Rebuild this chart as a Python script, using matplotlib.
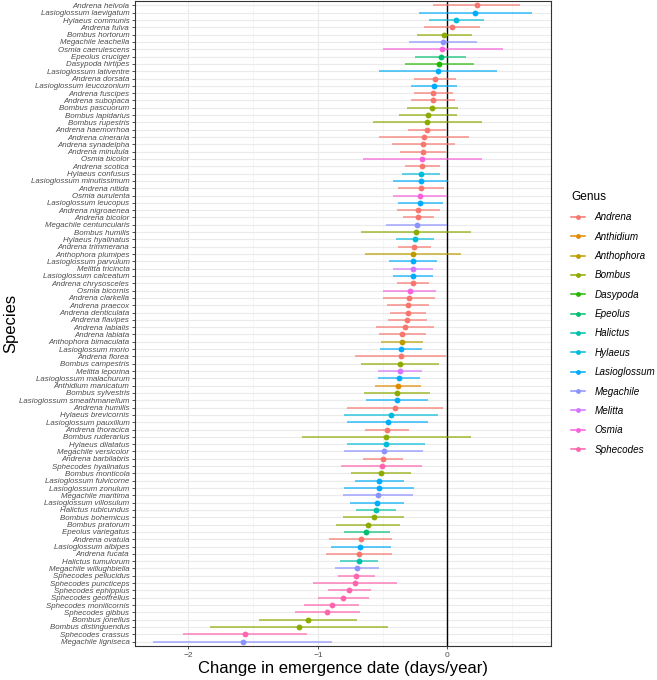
import matplotlib
matplotlib.use("Agg")
import matplotlib.pyplot as plt
from matplotlib.lines import Line2D

species = ["Andrena helvola","Lasioglossum laevigatum","Hylaeus communis","Andrena fulva","Bombus hortorum",
"Megachile leachella","Osmia caerulescens","Epeolus cruciger","Dasypoda hirtipes","Lasioglossum lativentre",
"Andrena dorsata","Lasioglossum leucozonium","Andrena fuscipes","Andrena subopaca","Bombus pascuorum",
"Bombus lapidarius","Bombus rupestris","Andrena haemorrhoa","Andrena cineraria","Andrena synadelpha",
"Andrena minutula","Osmia bicolor","Andrena scotica","Hylaeus confusus","Lasioglossum minutissimum",
"Andrena nitida","Osmia aurulenta","Lasioglossum leucopus","Andrena nigroaenea","Andrena bicolor",
"Megachile centuncularis","Bombus humilis","Hylaeus hyalinatus","Andrena trimmerana","Anthophora plumipes",
"Lasioglossum parvulum","Melitta tricincta","Lasioglossum calceatum","Andrena chrysosceles","Osmia bicornis",
"Andrena clarkella","Andrena praecox","Andrena denticulata","Andrena flavipes","Andrena labialis",
"Andrena labiata","Anthophora bimaculata","Lasioglossum morio","Andrena florea","Bombus campestris",
"Melitta leporina","Lasioglossum malachurum","Anthidium manicatum","Bombus sylvestris","Lasioglossum smeathmanellum",
"Andrena humilis","Hylaeus brevicornis","Lasioglossum pauxillum","Andrena thoracica","Bombus ruderarius",
"Hylaeus dilatatus","Megachile versicolor","Andrena barbilabris","Sphecodes hyalinatus","Bombus monticola",
"Lasioglossum fulvicorne","Lasioglossum zonulum","Megachile maritima","Lasioglossum villosulum","Halictus rubicundus",
"Bombus bohemicus","Bombus pratorum","Epeolus variegatus","Andrena ovatula","Lasioglossum albipes",
"Andrena fucata","Halictus tumulorum","Megachile willughbiella","Sphecodes pellucidus","Sphecodes puncticeps",
"Sphecodes ephippius","Sphecodes geoffrellus","Sphecodes monilicornis","Sphecodes gibbus","Bombus jonellus",
"Bombus distinguendus","Sphecodes crassus","Megachile ligniseca"]

estimate = [0.225,0.214,0.070,0.036,-0.028,-0.031,-0.039,-0.052,-0.062,-0.075,
-0.093,-0.106,-0.108,-0.114,-0.121,-0.150,-0.155,-0.157,-0.181,-0.188,
-0.191,-0.194,-0.196,-0.204,-0.204,-0.206,-0.209,-0.212,-0.225,-0.225,
-0.235,-0.245,-0.250,-0.255,-0.263,-0.266,-0.266,-0.268,-0.268,-0.292,
-0.297,-0.305,-0.307,-0.310,-0.325,-0.351,-0.354,-0.361,-0.361,-0.366,
-0.366,-0.377,-0.385,-0.390,-0.390,-0.408,-0.439,-0.462,-0.467,-0.472,
-0.475,-0.493,-0.501,-0.506,-0.516,-0.529,-0.532,-0.539,-0.547,-0.552,
-0.570,-0.614,-0.625,-0.671,-0.674,-0.684,-0.686,-0.702,-0.707,-0.715,
-0.761,-0.803,-0.895,-0.929,-1.076,-1.146,-1.564,-1.582]

lower = [-0.114,-0.222,-0.142,-0.178,-0.237,-0.294,-0.501,-0.248,-0.330,-0.529,
-0.255,-0.281,-0.261,-0.281,-0.315,-0.372,-0.573,-0.307,-0.529,-0.428,
-0.366,-0.655,-0.330,-0.351,-0.418,-0.385,-0.421,-0.382,-0.387,-0.341,
-0.477,-0.666,-0.397,-0.379,-0.635,-0.449,-0.423,-0.423,-0.390,-0.495,
-0.498,-0.467,-0.444,-0.457,-0.550,-0.532,-0.514,-0.521,-0.717,-0.668,
-0.537,-0.537,-0.560,-0.645,-0.630,-0.774,-0.800,-0.777,-0.637,-1.125,
-0.779,-0.800,-0.653,-0.821,-0.748,-0.715,-0.797,-0.808,-0.754,-0.705,
-0.803,-0.859,-0.800,-0.911,-0.903,-0.939,-0.831,-0.870,-0.846,-1.035,
-0.924,-0.999,-1.107,-1.174,-1.453,-1.830,-2.041,-2.274]

upper = [0.563,0.653,0.284,0.250,0.188,0.230,0.428,0.145,0.209,0.385,
0.067,0.072,0.046,0.057,0.080,0.077,0.266,-0.010,0.168,0.057,
-0.013,0.268,-0.059,-0.054,0.003,-0.023,-0.003,-0.036,-0.059,-0.106,
0.000,0.181,-0.106,-0.129,0.108,-0.083,-0.108,-0.108,-0.142,-0.085,
-0.093,-0.139,-0.168,-0.157,-0.101,-0.163,-0.191,-0.199,-0.008,-0.065,
-0.199,-0.214,-0.204,-0.134,-0.152,-0.036,-0.075,-0.150,-0.297,0.183,
-0.173,-0.191,-0.346,-0.194,-0.279,-0.338,-0.261,-0.268,-0.338,-0.397,
-0.338,-0.369,-0.446,-0.431,-0.439,-0.428,-0.537,-0.532,-0.563,-0.390,
-0.594,-0.604,-0.686,-0.676,-0.702,-0.459,-1.084,-0.888]

genera = ["Andrena","Anthidium","Anthophora","Bombus","Dasypoda","Epeolus","Halictus",
          "Hylaeus","Lasioglossum","Megachile","Melitta","Osmia","Sphecodes"]
genus_colors = ["#F8766D","#E18A00","#BE9C00","#8CAB00","#24B700","#00BE70","#00C1AB",
                "#00BBDA","#00ACFC","#8B93FF","#D575FE","#F962DD","#FF65AC"]
cmap = dict(zip(genera, genus_colors))

plt.rcParams['font.family'] = ['Liberation Sans', 'DejaVu Sans']

fig = plt.figure(figsize=(6.57, 6.8), dpi=100)
ax = fig.add_axes([135/657, 1-646/680, (551-135)/657, (646-1)/680])

n = len(species)
ypos = list(range(n))
for i, (s, e, lo, hi) in enumerate(zip(species, estimate, lower, upper)):
    c = cmap[s.split()[0]]
    ax.plot([lo, hi], [i, i], color=c, lw=1.1, alpha=0.8, solid_capstyle='butt', zorder=3)
    ax.plot([e], [i], 'o', color=c, ms=4.2, mec='none', zorder=4)

ax.axvline(0, color='black', lw=1.0, zorder=2)
ax.set_ylim(n - 1 + 0.6, -0.6)
ax.set_xlim(-2.413, 0.80)
ax.set_yticks(ypos)
ax.set_yticklabels(species, fontstyle='italic', fontsize=5.7, color='#4D4D4D')
ax.set_xticks([-2, -1, 0])
ax.set_xticklabels(['\u22122', '\u22121', '0'], fontsize=6, color='#4D4D4D')
ax.set_xticks([-1.5, -0.5, 0.5], minor=True)
ax.tick_params(axis='both', which='major', length=2.5, width=0.6, color='#333333', pad=1.5)
ax.tick_params(axis='x', which='minor', length=0)
ax.grid(True, which='major', color='#EBEBEB', lw=0.8, zorder=0)
ax.grid(True, which='minor', axis='x', color='#F2F2F2', lw=0.5, zorder=0)
ax.set_axisbelow(True)
for sp in ax.spines.values():
    sp.set_color('#333333')
    sp.set_linewidth(0.8)

ax.set_xlabel('Change in emergence date (days/year)', fontsize=12, labelpad=2)
fig.text(11/657, 1-323/680, 'Species', rotation=90, fontsize=12, ha='center', va='center')

handles = [Line2D([0], [0], color=c, lw=1.1, marker='o', ms=3.5, mec='none') for c in genus_colors]
leg = fig.legend(handles, genera, loc='upper left', bbox_to_anchor=(562/657, 1-182/680),
                 frameon=False, title='Genus', fontsize=7.1, title_fontsize=8.6,
                 handlelength=1.4, handletextpad=1.0, labelspacing=0.95, alignment='left')
for t in leg.get_texts():
    t.set_fontstyle('italic')

fig.savefig('out.png', dpi=100)
